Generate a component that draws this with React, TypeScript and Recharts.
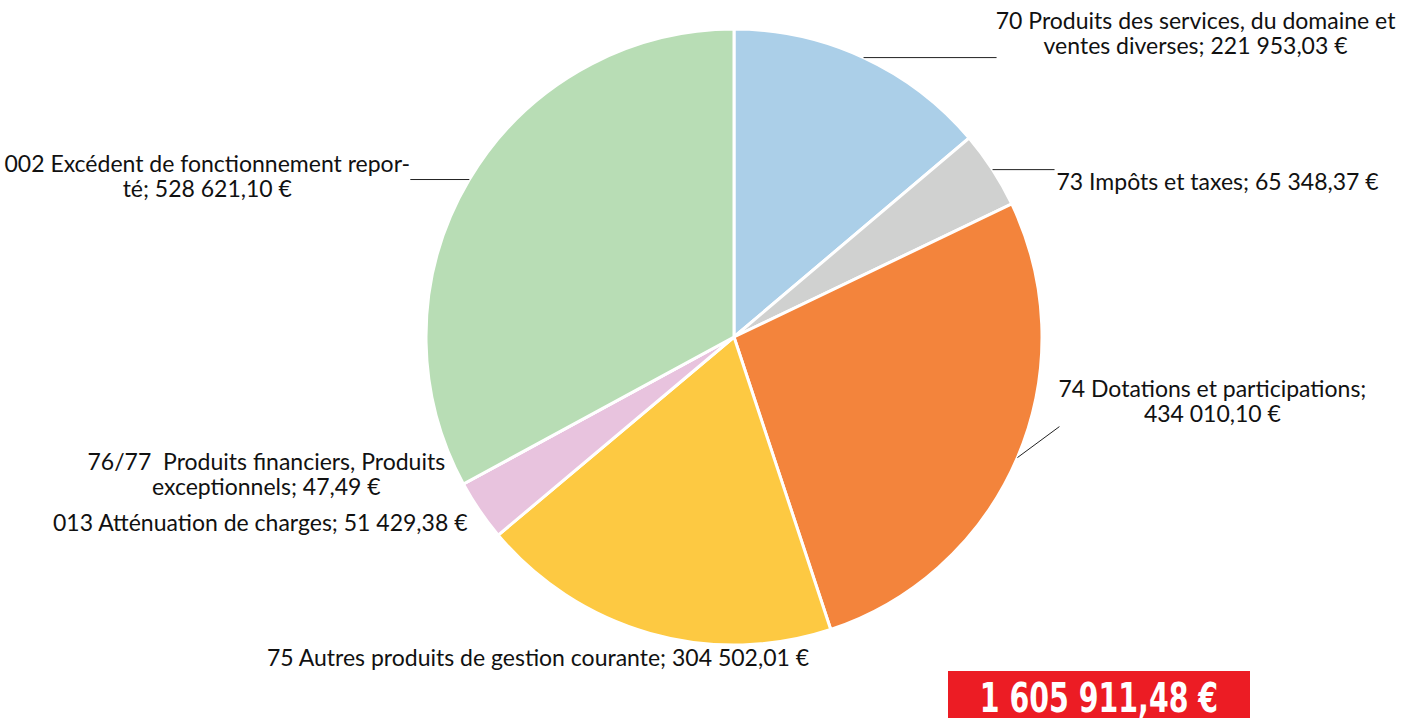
import { Cell, Pie, PieChart } from "recharts";

const CATEGORIES = [
  "70 Produits des services, du domaine et ventes diverses",
  "73 Impôts et taxes",
  "74 Dotations et participations",
  "75 Autres produits de gestion courante",
  "013 Atténuation de charges",
  "76/77  Produits financiers, Produits exceptionnels",
  "002 Excédent de fonctionnement reporté",
];

const AMOUNTS = [221953.03, 65348.37, 434010.1, 304502.01, 51429.38, 47.49, 528621.1];

const LABEL_LINES = [
  ["70 Produits des services, du domaine et", "ventes diverses; 221 953,03 €"],
  ["73 Impôts et taxes; 65 348,37 €"],
  ["74 Dotations et participations;", "434 010,10 €"],
  ["75 Autres produits de gestion courante; 304 502,01 €"],
  ["013 Atténuation de charges; 51 429,38 €"],
  ["76/77  Produits financiers, Produits", "exceptionnels; 47,49 €"],
  ["002 Excédent de fonctionnement repor-", "té; 528 621,10 €"],
];

const TOTAL_LABEL = "1 605 911,48 €";

const COLORS = ["#abcfe8", "#d0d1d0", "#f3843c", "#fdc942", "#e8c3de", "#e8c3de", "#b8ddb5"];

const data = CATEGORIES.map((name, i) => ({ name, value: AMOUNTS[i] }));

// label placement, offsets from the point on the rim at the slice's mid angle
// line: leader line end (null = no line), text: anchor of first line
const LAYOUT = [
  { line: [133, 0], text: [332, -38], anchor: "middle" },
  { line: [62, 0], text: [64, 11], anchor: "start" },
  { line: [42, -31], text: [195, -70], anchor: "middle" },
  { line: null, text: [-112, 24], anchor: "middle" },
  { line: null, text: [-12, 12], anchor: "end" },
  { line: null, text: [-197, -23], anchor: "middle" },
  { line: [-59, 0], text: [-262, -17], anchor: "middle" },
];

const RAD = Math.PI / 180;

function renderLabel(props: any) {
  const { cx, cy, midAngle, outerRadius, index } = props;
  const x0 = cx + outerRadius * Math.cos(-midAngle * RAD);
  const y0 = cy + outerRadius * Math.sin(-midAngle * RAD);
  const lay = LAYOUT[index];
  const tx = x0 + lay.text[0];
  const ty = y0 + lay.text[1];
  return (
    <g key={`lbl-${index}`}>
      {lay.line && (
        <line
          x1={x0}
          y1={y0}
          x2={x0 + lay.line[0]}
          y2={y0 + lay.line[1]}
          stroke="#222"
          strokeWidth={1}
        />
      )}
      <text
        x={tx}
        y={ty}
        textAnchor={lay.anchor}
        fill="#111"
        fontSize={23}
        fontFamily="Lato, 'Open Sans', sans-serif"
        style={{ whiteSpace: "pre" }}
      >
        {LABEL_LINES[index].map((t, j) => (
          <tspan key={j} x={tx} y={ty + j * 25} dominantBaseline="central">
            {t}
          </tspan>
        ))}
      </text>
    </g>
  );
}

export default function App() {
  return (
    <div style={{ position: "absolute", left: 0, top: 0, width: 1414, height: 718, background: "#fff" }}>
      <PieChart width={1414} height={718} margin={{ top: 0, right: 0, bottom: 0, left: 0 }}>
        <Pie
          data={data}
          dataKey="value"
          nameKey="name"
          cx={734}
          cy={337}
          outerRadius={308}
          startAngle={90}
          endAngle={-270}
          stroke="#fff"
          strokeWidth={3}
          label={renderLabel}
          labelLine={false}
          isAnimationActive={false}
        >
          {data.map((d, i) => (
            <Cell key={d.name} fill={COLORS[i]} />
          ))}
        </Pie>
      </PieChart>
      <div
        style={{
          position: "absolute",
          left: 948,
          top: 671,
          width: 302,
          height: 47,
          background: "#ec1c24",
          overflow: "hidden",
        }}
      >
        <span
          style={{
            position: "absolute",
            left: "50%",
            top: 7,
            transform: "translateX(-50%) scaleX(0.79)",
            color: "#fff",
            fontFamily: "'Liberation Sans Narrow', 'DejaVu Sans Condensed', sans-serif",
            fontWeight: 700,
            fontSize: 40,
            lineHeight: "40px",
            whiteSpace: "nowrap",
          }}
        >
          {TOTAL_LABEL}
        </span>
      </div>
    </div>
  );
}
